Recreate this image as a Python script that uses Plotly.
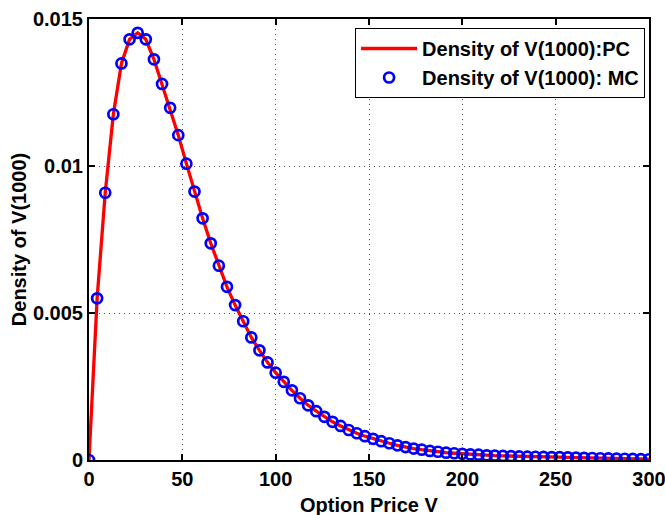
import numpy as np
import plotly.graph_objects as go

# Option price grid (70 equally spaced points from 0 to 300)
option_price = np.linspace(0, 300, 70)

# Density values (PC curve and MC samples coincide)
density_pc = [
    0.0, 0.0055, 0.00909, 0.01176, 0.01349, 0.01431, 0.01453, 0.01431, 0.01363, 0.01279,
    0.01198, 0.01105, 0.01008, 0.00913, 0.00822, 0.00737, 0.00661, 0.00589, 0.00527, 0.00472,
    0.00417, 0.00373, 0.00332, 0.00297, 0.00266, 0.00237, 0.0021, 0.00186, 0.00166, 0.00147,
    0.0013, 0.00116, 0.00102, 0.00091, 0.00081, 0.00072, 0.00064, 0.00057, 0.0005, 0.00044,
    0.00039, 0.00035, 0.00031, 0.00028, 0.00025, 0.00023, 0.00021, 0.00019, 0.00018, 0.00016,
    0.00015, 0.00014, 0.00013, 0.00012, 0.000115, 0.00011, 0.000105, 0.0001, 0.000095, 0.00009,
    0.000082, 0.000075, 0.000068, 0.00006, 0.000054, 0.000048, 0.000042, 0.000036, 0.00003, 0.000025,
]
density_mc = list(density_pc)

x_ticks = [0, 50, 100, 150, 200, 250, 300]
x_tick_labels = ["0", "50", "100", "150", "200", "250", "300"]
y_ticks = [0, 0.005, 0.01, 0.015]
y_tick_labels = ["0", "0.005", "0.01", "0.015"]
x_title = "Option Price V"
y_title = "Density of V(1000)"

FONT = "Liberation Sans, Arial, Helvetica, sans-serif"

fig = go.Figure()
fig.add_trace(go.Scatter(
    x=option_price, y=density_pc, mode="lines",
    name="<b>Density of V(1000):PC</b>",
    line=dict(color="#ff0000", width=3.3),
))
fig.add_trace(go.Scatter(
    x=option_price, y=density_mc, mode="markers",
    name="<b>Density of V(1000): MC</b>",
    marker=dict(symbol="circle-open", size=10, color="#0000ff", line=dict(width=2.7, color="#0000ff")),
))

axis_common = dict(
    showline=True, linecolor="black", linewidth=2, mirror="ticks",
    ticks="inside", ticklen=6, tickwidth=1.5, tickcolor="black",
    showgrid=True, gridcolor="#555555", gridwidth=1, griddash="1px,4px",
    zeroline=False, ticklabeloverflow="allow",
    tickfont=dict(family=FONT, size=20, color="black", weight="bold"),
)

fig.update_xaxes(
    range=[0, 300], tickvals=x_ticks, ticktext=x_tick_labels,
    automargin=False,
    **axis_common,
)
fig.update_yaxes(
    range=[0, 0.015], tickvals=y_ticks, ticktext=y_tick_labels,
    title=dict(text="<b>" + y_title + "</b>", font=dict(family=FONT, size=20, color="black"), standoff=1),
    automargin=False,
    **axis_common,
)

fig.add_annotation(
    text="<b>" + x_title + "</b>", xref="paper", yref="paper", x=0.5, y=0,
    xanchor="center", yanchor="top", yshift=-32, showarrow=False,
    font=dict(family=FONT, size=20, color="black"),
)

fig.update_layout(
    width=665, height=515,
    margin=dict(l=89, r=16, t=19, b=55),
    paper_bgcolor="white", plot_bgcolor="white",
    showlegend=True,
    legend=dict(
        x=0.993, y=0.9796, xanchor="right", yanchor="top",
        bgcolor="white", bordercolor="black", borderwidth=1,
        font=dict(family=FONT, size=20, color="black"),
        tracegroupgap=0, itemwidth=56,
    ),
)

fig.write_html(
    "out.html",
    config={"displayModeBar": False},
    post_script="document.body.style.margin='0';document.body.style.overflow='hidden';",
)
